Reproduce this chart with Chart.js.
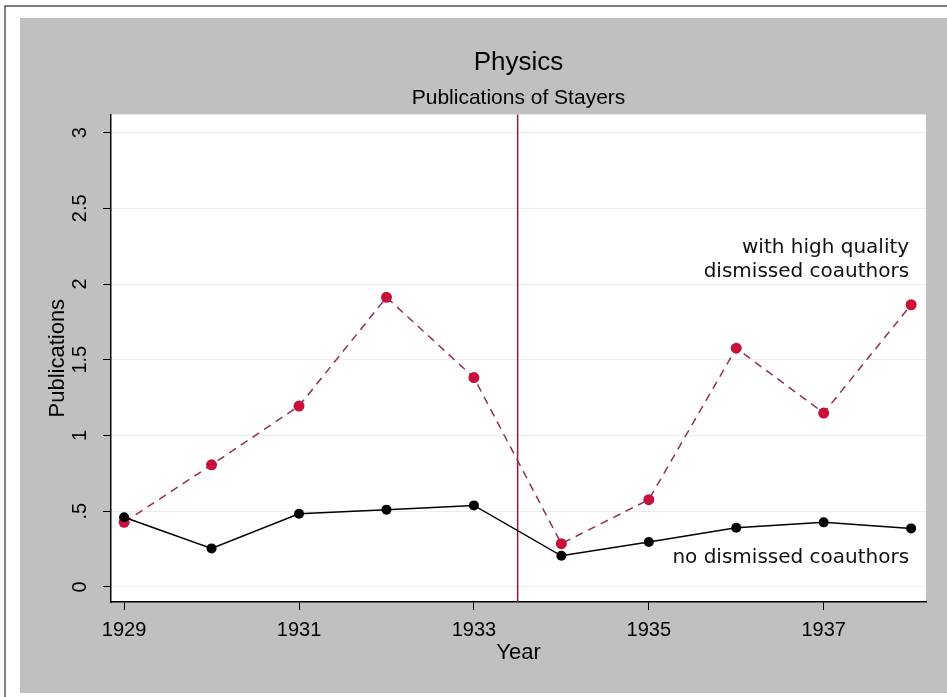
<!DOCTYPE html>
<html>
<head>
<meta charset="utf-8">
<title>Physics - Publications of Stayers</title>
<script src="https://cdn.jsdelivr.net/npm/chart.js@4.4.1/dist/chart.umd.min.js"></script>
<style>
  html, body { margin: 0; padding: 0; background: #fff; }
  canvas { display: block; }
</style>
</head>
<body>
<canvas id="stayersChart" width="947" height="697"></canvas>
<script>
// data
const years = [1929, 1930, 1931, 1932, 1933, 1934, 1935, 1936, 1937, 1938];
const noDismissed = [0.46, 0.254, 0.483, 0.51, 0.538, 0.205, 0.296, 0.39, 0.426, 0.386];
const highQuality = [0.426, 0.806, 1.194, 1.912, 1.382, 0.285, 0.576, 1.576, 1.148, 1.863];
const yearTicks = [1929, 1931, 1933, 1935, 1937];
const pubTicks = [0, 0.5, 1, 1.5, 2, 2.5, 3];
const pubTickLabels = ["0", ".5", "1", "1.5", "2", "2.5", "3"];
const dismissalYear = 1933.5;

const FONT = "'Liberation Sans', Arial, sans-serif";

// frame, grey graph region and white plot region
const backgroundPlugin = {
  id: "stataBackground",
  beforeDraw(chart) {
    const ctx = chart.ctx;
    const area = chart.chartArea;
    ctx.save();
    ctx.fillStyle = "#ffffff";
    ctx.fillRect(0, 0, chart.width, chart.height);
    ctx.fillStyle = "#c0c0c0";
    ctx.fillRect(20, 18, chart.width - 20, 675);
    ctx.strokeStyle = "#555555";
    ctx.lineWidth = 1.5;
    ctx.beginPath();
    ctx.moveTo(5, chart.height);
    ctx.lineTo(5, 6);
    ctx.lineTo(chart.width, 6);
    ctx.stroke();
    ctx.fillStyle = "#ffffff";
    ctx.fillRect(area.left, area.top, area.right - area.left, area.bottom - area.top);
    ctx.restore();
  },
};

// vertical line at the dismissal date
const dismissalLine = {
  id: "dismissalLine",
  beforeDatasetsDraw(chart) {
    const ctx = chart.ctx;
    const x = chart.scales.x.getPixelForValue(dismissalYear);
    ctx.save();
    ctx.strokeStyle = "#8c1a40";
    ctx.lineWidth = 1.5;
    ctx.beginPath();
    ctx.moveTo(x, chart.chartArea.top);
    ctx.lineTo(x, chart.chartArea.bottom);
    ctx.stroke();
    ctx.restore();
  },
};

// series labels written on the plot
const seriesLabels = {
  id: "seriesLabels",
  afterDatasetsDraw(chart) {
    const ctx = chart.ctx;
    const xs = chart.scales.x;
    const ys = chart.scales.y;
    const x = xs.getPixelForValue(years[years.length - 1]) - 2;
    ctx.save();
    ctx.fillStyle = "#111111";
    ctx.font = "20px 'DejaVu Sans', sans-serif";
    ctx.textAlign = "right";
    ctx.textBaseline = "middle";
    ctx.fillText("with high quality", x, ys.getPixelForValue(2.24));
    ctx.fillText("dismissed coauthors", x, ys.getPixelForValue(2.08));
    ctx.fillText("no dismissed coauthors", x, ys.getPixelForValue(0.19));
    ctx.restore();
  },
};

new Chart(document.getElementById("stayersChart"), {
  type: "line",
  data: {
    datasets: [
      {
        label: "no dismissed coauthors",
        data: years.map((y, i) => ({ x: y, y: noDismissed[i] })),
        borderColor: "#000000",
        backgroundColor: "#000000",
        borderWidth: 1.5,
        pointRadius: 5,
        pointBorderWidth: 0,
        tension: 0,
      },
      {
        label: "with high quality dismissed coauthors",
        data: years.map((y, i) => ({ x: y, y: highQuality[i] })),
        borderColor: "#8e2f62",
        backgroundColor: "#c8103c",
        borderWidth: 1.5,
        borderDash: [8, 6],
        pointRadius: 5.5,
        pointBorderWidth: 0,
        tension: 0,
      },
    ],
  },
  options: {
    responsive: false,
    animation: false,
    layout: { padding: { left: 20, right: 21, top: 20, bottom: 4 } },
    plugins: {
      legend: { display: false },
      tooltip: { enabled: false },
      title: {
        display: true,
        text: "Physics",
        fullSize: false,
        color: "#000000",
        font: { family: FONT, size: 26, weight: "normal" },
        padding: { top: 27, bottom: 0 },
      },
      subtitle: {
        display: true,
        text: "Publications of Stayers",
        fullSize: false,
        color: "#000000",
        font: { family: FONT, size: 21, weight: "normal" },
        padding: { top: 7, bottom: 4 },
      },
    },
    scales: {
      x: {
        type: "linear",
        min: 1928.85,
        max: 1938.17,
        afterBuildTicks: (scale) => {
          scale.ticks = yearTicks.map((v) => ({ value: v }));
        },
        afterFit: (scale) => {
          scale.height = 91;
        },
        ticks: {
          color: "#000000",
          font: { family: FONT, size: 20 },
          padding: 8,
          maxRotation: 0,
          callback: (v) => String(v),
        },
        grid: { drawOnChartArea: false, tickLength: 8, tickColor: "#000000", tickWidth: 1 },
        border: { display: true, color: "#000000", width: 1.5 },
        title: {
          display: true,
          text: "Year",
          color: "#000000",
          font: { family: FONT, size: 22 },
          padding: { top: 0, bottom: 27 },
        },
      },
      y: {
        type: "linear",
        min: -0.1,
        max: 3.12,
        afterBuildTicks: (scale) => {
          scale.ticks = pubTicks.map((v) => ({ value: v }));
        },
        afterFit: (scale) => {
          scale.width = 91;
        },
        ticks: {
          color: "#000000",
          font: { family: FONT, size: 20 },
          padding: 9,
          minRotation: 90,
          maxRotation: 90,
          crossAlign: "center",
          callback: (v) => pubTickLabels[pubTicks.indexOf(v)],
        },
        grid: { color: "#ececec", lineWidth: 1, tickLength: 8, tickColor: "#000000", tickWidth: 1 },
        border: { display: true, color: "#000000", width: 1.5 },
        title: {
          display: true,
          text: "Publications",
          color: "#000000",
          font: { family: FONT, size: 22 },
          padding: { top: 25, bottom: 0 },
        },
      },
    },
  },
  plugins: [backgroundPlugin, dismissalLine, seriesLabels],
});
</script>
</body>
</html>
